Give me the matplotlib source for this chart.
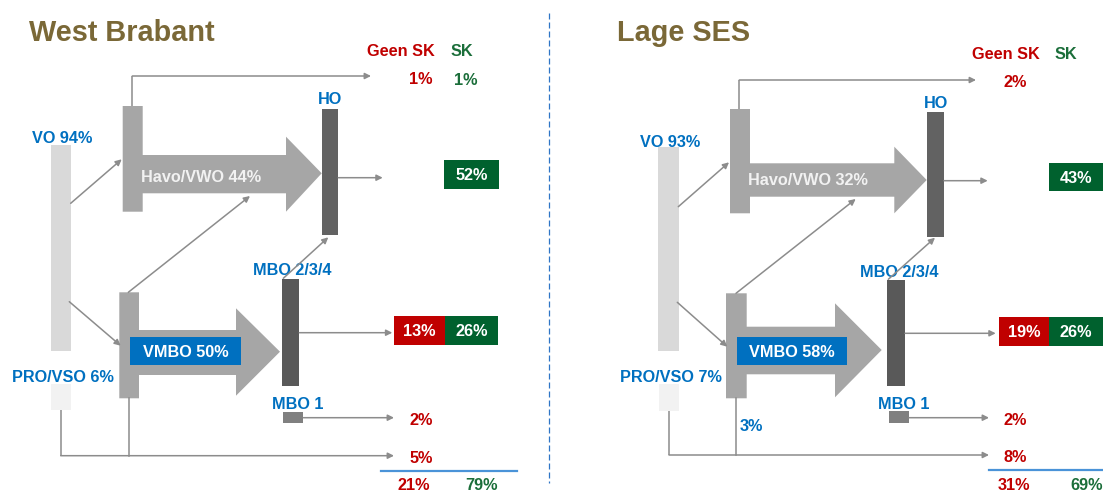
import matplotlib
matplotlib.use("Agg")
import matplotlib.pyplot as plt
from matplotlib.patches import Polygon, Rectangle

# ---------------- data ----------------
panel_titles = ["West Brabant", "Lage SES"]
vo_pct = [94, 93]
pro_pct = [6, 7]
havo_pct = [44, 32]
vmbo_pct = [50, 58]
top_geen_sk = [1, 2]
top_sk = [1, None]
ho_sk = [52, 43]
mbo_geen_sk = [13, 19]
mbo_sk = [26, 26]
mbo1_geen_sk = [2, 2]
drop_geen_sk = [5, 8]
vmbo_drop = [None, 3]
total_geen_sk = [21, 31]
total_sk = [79, 69]
col_labels = ["Geen SK", "SK"]

# ---------------- layout (pixel coordinates, y downward) ----------------
layouts = [
    dict(title_x=29, vo=(50.7, 71, 145, 351), pro=(50.7, 71, 384.3, 410),
         havo_bar=(122.7, 142.7, 106, 211.7), havo_shaft=(155, 193.3), havo_head=(286, 136.7, 211.7, 321.7, 173.3),
         vmbo_bar=(119.3, 139, 292.3, 398.3), vmbo_shaft=(330, 375), vmbo_head=(236, 308.3, 395.7, 280, 351.7),
         ho=(321.7, 338.3, 109, 235), mbo=(281.7, 299.3, 279, 385.7), mbo1=(283.3, 303.3, 411.7, 422.7),
         top_line=[(132.3, 106), (132.3, 76), (371, 76)],
         vo_havo=((70.7, 203.3), (121.7, 159.3)), vo_vmbo=((69.3, 301.7), (120.7, 345.7)),
         vmbo_havo=((128.3, 292.3), (250, 196)), mbo_ho=((283.3, 278.3), (328.3, 237.3)),
         ho_out=((338.3, 177.7), (382.7, 177.7)), mbo_out=((299.3, 332.7), (392.3, 332.7)),
         mbo1_out=((303.3, 417.7), (394, 417.7)),
         pro_line=[(60.7, 410), (60.7, 455.7), (394, 455.7)], vmbo_down=[(129, 398.3), (129, 455.7)],
         head_lbl_y=50, head_x=(401.2, 462), top_y=(78.3, 79.5), top_x=(421.2, 466.2),
         ho_lbl=(330, 98.3), ho_box=(444.3, 499, 160, 189),
         vo_lbl=(62, 137.5), pro_lbl=(63.3, 376), havo_lbl=(201, 175.7),
         vmbo_box=(130, 240.7, 336.7, 365), mbo_lbl=(292.7, 269), mbo1_lbl=(297.5, 403.3),
         mbo_boxes=(394.3, 445, 498.3, 316, 345), val_x=421.2, mbo1_y=419, drop_y=456.7,
         vdrop_lbl=None, tot_line=(381, 517.3, 470.7), tot_y=484.3, tot_x=(414.2, 481.8)),
    dict(title_x=616.7, vo=(658.3, 678.7, 147.3, 351), pro=(659, 679, 384.3, 410.7),
         havo_bar=(730, 750, 109, 213.3), havo_shaft=(163.3, 196.7), havo_head=(894.3, 146.7, 213.3, 926.7, 180),
         vmbo_bar=(726, 746.7, 293.3, 398.3), vmbo_shaft=(326.7, 374.3), vmbo_head=(835, 303.3, 397.3, 881.7, 350),
         ho=(927.3, 944, 112.3, 236.7), mbo=(887.3, 905, 280, 386), mbo1=(889.3, 909, 411, 422.7),
         top_line=[(739.3, 109), (739.3, 80), (976, 80)],
         vo_havo=((678.3, 206.7), (729, 162.3)), vo_vmbo=((677.3, 302.3), (727.3, 346.7)),
         vmbo_havo=((736, 293.3), (855.7, 199)), mbo_ho=((888.3, 279.3), (935, 237.7)),
         ho_out=((944, 180.7), (987.7, 180.7)), mbo_out=((905, 333.3), (995.7, 333.3)),
         mbo1_out=((909, 417.7), (989, 417.7)),
         pro_line=[(669, 410.7), (669, 455), (989, 455)], vmbo_down=[(735.7, 398.3), (735.7, 455)],
         head_lbl_y=53.3, head_x=(1005.8, 1066.2), top_y=(81, 81), top_x=(1015.3, 1066.2),
         ho_lbl=(936, 101.7), ho_box=(1049, 1102.7, 162.7, 191),
         vo_lbl=(670, 140.7), pro_lbl=(671.3, 376), havo_lbl=(807.8, 179),
         vmbo_box=(737.3, 846.7, 337.3, 365), mbo_lbl=(898.8, 270.7), mbo1_lbl=(903.7, 402.7),
         mbo_boxes=(999.3, 1049, 1102.7, 317.3, 345.7), val_x=1015.3, mbo1_y=419, drop_y=455.7,
         vdrop_lbl=(751.2, 425), tot_line=(989.3, 1103, 470), tot_y=484.3, tot_x=(1014.2, 1086.7)),
]

# ---------------- style ----------------
FONT = "Liberation Sans"
RED = "#c00000"
GREEN = "#00612e"
GREEN_TXT = "#1b6e3a"
BLUE = "#0070c0"
TITLE_C = "#7a6837"
LINE_C = "#8c8c8c"
FS = 11.7

W, H = 1103, 491
fig = plt.figure(figsize=(W / 100, H / 100), dpi=100)
ax = fig.add_axes([0, 0, 1, 1])
ax.set_xlim(0, W)
ax.set_ylim(H, 0)
ax.axis("off")


def txt(x, yc, s, size=FS, color=BLUE, ha="center", z=5):
    em = size * 100 / 72
    ax.text(x, yc + 0.358 * em, s, fontsize=size, color=color, ha=ha, va="baseline",
            fontfamily=FONT, fontweight="bold", zorder=z)


def rect(x0, x1, y0, y1, color, z=2):
    ax.add_patch(Rectangle((x0, y0), x1 - x0, y1 - y0, facecolor=color, edgecolor="none", zorder=z))


def arrow(p0, p1):
    ax.annotate("", xy=p1, xytext=p0,
                arrowprops=dict(arrowstyle="-|>", color=LINE_C, lw=1.1, mutation_scale=9,
                                shrinkA=0, shrinkB=0), zorder=6)


def polyline(pts, end_arrow=True):
    if end_arrow:
        xs = [p[0] for p in pts[:-1]]
        ys = [p[1] for p in pts[:-1]]
        ax.plot(xs, ys, color=LINE_C, lw=1.1, zorder=6, solid_capstyle="butt")
        arrow(pts[-2], pts[-1])
    else:
        ax.plot([p[0] for p in pts], [p[1] for p in pts], color=LINE_C, lw=1.1, zorder=6)


def big_arrow(bar, shaft, head, color="#a6a6a6"):
    bx0, bx1, by0, by1 = bar
    sy0, sy1 = shaft
    hx, hy0, hy1, tx, ty = head
    pts = [(bx0, by0), (bx1, by0), (bx1, sy0), (hx, sy0), (hx, hy0), (tx, ty),
           (hx, hy1), (hx, sy1), (bx1, sy1), (bx1, by1), (bx0, by1)]
    ax.add_patch(Polygon(pts, closed=True, facecolor=color, edgecolor="none", zorder=2))


def pct(v):
    return f"{v}%"


for i, L in enumerate(layouts):
    # title
    ax.text(L["title_x"], 41, panel_titles[i], fontsize=20.8, color=TITLE_C, ha="left",
            va="baseline", fontfamily=FONT, fontweight="bold")
    # column headers
    txt(L["head_x"][0], L["head_lbl_y"], col_labels[0], color=RED)
    txt(L["head_x"][1], L["head_lbl_y"], col_labels[1], color=GREEN_TXT)
    # top exit values
    txt(L["top_x"][0], L["top_y"][0], pct(top_geen_sk[i]), color=RED)
    if top_sk[i] is not None:
        txt(L["top_x"][1], L["top_y"][1], pct(top_sk[i]), color=GREEN_TXT)

    # bars
    rect(*L["vo"], "#d9d9d9")
    rect(*L["pro"], "#f2f2f2")
    big_arrow(L["havo_bar"], L["havo_shaft"], L["havo_head"])
    big_arrow(L["vmbo_bar"], L["vmbo_shaft"], L["vmbo_head"])
    rect(*L["ho"], "#626262", z=3)
    rect(*L["mbo"], "#595959", z=3)
    rect(*L["mbo1"], "#808080", z=3)

    # labels
    txt(*L["vo_lbl"], f"VO {vo_pct[i]}%")
    txt(*L["pro_lbl"], f"PRO/VSO {pro_pct[i]}%")
    txt(*L["havo_lbl"], f"Havo/VWO {havo_pct[i]}%", color="#f2f2f2")
    bx0, bx1, by0, by1 = L["vmbo_box"]
    rect(bx0, bx1, by0, by1, BLUE, z=3)
    txt((bx0 + bx1) / 2, (by0 + by1) / 2, f"VMBO {vmbo_pct[i]}%", color="white")
    txt(*L["ho_lbl"], "HO")
    txt(*L["mbo_lbl"], "MBO 2/3/4", z=4)
    txt(*L["mbo1_lbl"], "MBO 1")
    if L["vdrop_lbl"] is not None and vmbo_drop[i] is not None:
        txt(*L["vdrop_lbl"], pct(vmbo_drop[i]))

    # result boxes
    hx0, hx1, hy0, hy1 = L["ho_box"]
    rect(hx0, hx1, hy0, hy1, GREEN)
    txt((hx0 + hx1) / 2, (hy0 + hy1) / 2, pct(ho_sk[i]), color="white")
    m0, m1, m2, my0, my1 = L["mbo_boxes"]
    rect(m0, m1, my0, my1, RED)
    rect(m1, m2, my0, my1, GREEN)
    txt((m0 + m1) / 2, (my0 + my1) / 2, pct(mbo_geen_sk[i]), color="white")
    txt((m1 + m2) / 2, (my0 + my1) / 2, pct(mbo_sk[i]), color="white")
    txt(L["val_x"], L["mbo1_y"], pct(mbo1_geen_sk[i]), color=RED)
    txt(L["val_x"], L["drop_y"], pct(drop_geen_sk[i]), color=RED)

    # totals
    tx0, tx1, ty = L["tot_line"]
    ax.plot([tx0, tx1], [ty, ty], color="#4a93d8", lw=1.6, zorder=4)
    txt(L["tot_x"][0], L["tot_y"], pct(total_geen_sk[i]), color=RED)
    txt(L["tot_x"][1], L["tot_y"], pct(total_sk[i]), color=GREEN_TXT)

    # flow lines
    polyline(L["top_line"])
    arrow(*L["vo_havo"])
    arrow(*L["vo_vmbo"])
    arrow(*L["vmbo_havo"])
    arrow(*L["mbo_ho"])
    arrow(*L["ho_out"])
    arrow(*L["mbo_out"])
    arrow(*L["mbo1_out"])
    polyline(L["pro_line"])
    polyline(L["vmbo_down"], end_arrow=False)

# divider
ax.plot([549, 549], [13, 483], color="#2e75c6", lw=0.9, linestyle=(0, (4.8, 2.4)), zorder=1)

fig.savefig("out.png", dpi=100)
